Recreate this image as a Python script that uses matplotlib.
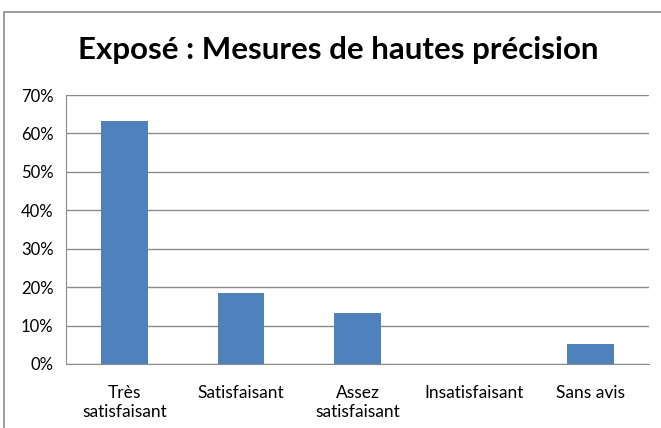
import matplotlib
matplotlib.use('Agg')
import matplotlib.pyplot as plt
import matplotlib.patches as mpatches
from matplotlib.ticker import PercentFormatter

plt.rcParams['font.family'] = ['Lato', 'DejaVu Sans']

categories = ['Très\nsatisfaisant', 'Satisfaisant', 'Assez\nsatisfaisant',
              'Insatisfaisant', 'Sans avis']
values = [63.2, 18.4, 13.2, 0.0, 5.3]

W, H = 661, 428
fig = plt.figure(figsize=(W / 100, H / 100), dpi=100)
ax = fig.add_axes([66 / W, 1 - 364 / H, (649 - 66) / W, (364 - 95) / H])

# chart border
fig.patches.append(mpatches.Rectangle((4 / W, -0.1), 1.2, (1 - 12 / H) + 0.1,
                                      transform=fig.transFigure, fill=False,
                                      edgecolor='#8c8c8c', linewidth=1.2))

x = range(len(categories))
ax.bar(x, values, width=0.4, color='#4f81bd', zorder=3)

ax.set_xlim(-0.5, len(categories) - 0.5)
ax.set_ylim(0, 70)
ax.set_yticks(range(0, 71, 10))
ax.yaxis.set_major_formatter(PercentFormatter(decimals=0))
ax.set_xticks(list(x))
ax.set_xticklabels(categories, fontsize=12.5, linespacing=1.25)
ax.tick_params(axis='both', length=0, colors='black')
ax.tick_params(axis='y', labelsize=12, pad=9)
ax.tick_params(axis='x', pad=15)
ax.grid(axis='y', color='#8c8c8c', linewidth=1, zorder=0)

for s in ['top', 'right']:
    ax.spines[s].set_visible(False)
for s in ['left', 'bottom']:
    ax.spines[s].set_color('#8c8c8c')

fig.text(338 / W, 1 - 50 / H, 'Exposé : Mesures de hautes précision',
         ha='center', va='center', fontsize=22.5, fontweight='bold')

fig.savefig('out.png', dpi=100)
